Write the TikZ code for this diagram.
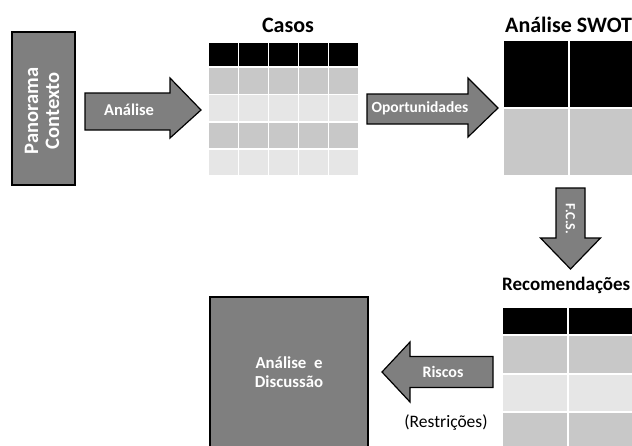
\documentclass[tikz,border=0pt]{standalone}
\usepackage{fontspec}
\setmainfont{Carlito}
\usetikzlibrary{calc}

\definecolor{darkbox}{RGB}{127,127,127}
\definecolor{midrow}{RGB}{200,200,200}
\definecolor{lightrow}{RGB}{230,230,230}

\begin{document}
\begin{tikzpicture}[%
        x = 1pt,
        y = -1pt,
        line join = miter,
        darkblock/.style = {fill = darkbox, draw = black, line width = 1.4pt},
        blockarrow/.style = {fill = darkbox, draw = black, line width = 1.2pt},
        cell/.style = {draw = white, line width = 1.2pt},
        arrowtext/.style = {text = white, inner sep = 0pt, font = \bfseries\fontsize{16}{18}\selectfont},
        tabletitle/.style = {inner sep = 0pt, font = \bfseries\fontsize{22}{24}\selectfont}
    ]

        % Page size and clipping.
        \useasboundingbox (0, 0) rectangle (632, 445);
        \clip (0, 0) rectangle (632, 445);

        % Coordinates for the block arrows.
        \coordinate (A0) at (85, 110);
        \coordinate (A1) at (170, 110);
        \coordinate (A2) at (201, 110);
        \coordinate (O0) at (367, 108);
        \coordinate (O1) at (468, 108);
        \coordinate (O2) at (498, 108);
        \coordinate (F0) at (570.5, 188);
        \coordinate (F1) at (570.5, 238);
        \coordinate (F2) at (570.5, 269);
        \coordinate (R0) at (493, 372);
        \coordinate (R1) at (410, 372);
        \coordinate (R2) at (382, 372);

        % Panorama box:
        \draw[darkblock] (12, 32) rectangle (75, 185);
        \node[rotate = 90, align = center, text = white, inner sep = 0pt,
              font = \bfseries\fontsize{20.5}{21}\selectfont] (panorama) at (42, 111)
            {Panorama\\Contexto};

        % Casos table:
        \node[tabletitle] (casos) at (288, 25) {Casos};
        \foreach \r/\ya/\yb/\c in {0/42/67/black, 1/67/94.5/midrow, 2/94.5/122/lightrow,
                                   3/122/149/midrow, 4/149/176/lightrow}{%
            \foreach \k in {0, 1, 2, 3, 4}{%
                \draw[cell, fill = \c] ({208 + 30.2*\k}, \ya) rectangle ({238.2 + 30.2*\k}, \yb);
            }
        }

        % Analise SWOT table:
        \node[tabletitle, anchor = west] (swot) at (505, 25) {Análise SWOT};
        \foreach \k in {0, 1}{%
            \draw[cell, fill = black]  ({503 + 66*\k}, 40)  rectangle ({569 + 66*\k}, 108);
            \draw[cell, fill = midrow] ({503 + 66*\k}, 108) rectangle ({569 + 66*\k}, 176);
        }

        % Recomendacoes table:
        \node[tabletitle, anchor = west, font = \bfseries\fontsize{19}{22}\selectfont]
            (recomendacoes) at (502, 285) {Recomendações};
        \foreach \r/\ya/\yb/\c in {0/307/335/black, 1/335/374/midrow,
                                   2/374/412/lightrow, 3/412/452/midrow}{%
            \foreach \k in {0, 1}{%
                \draw[cell, fill = \c] ({502 + 66*\k}, \ya) rectangle ({568 + 66*\k}, \yb);
            }
        }

        % Analise e Discussao box:
        \draw[darkblock] (210, 297) rectangle (368, 452);
        \node[align = center, text = white, inner sep = 0pt,
              font = \bfseries\fontsize{16.8}{19}\selectfont] (discussao) at (289, 372)
            {Análise\ \ e\\Discussão};

        % Block arrows:
        \draw[blockarrow]
            ($(A0) + (0, -17)$) -- ($(A1) + (0, -17)$) -- ($(A1) + (0, -32)$) --
            (A2) -- ($(A1) + (0, 28)$) -- ($(A1) + (0, 20)$) -- ($(A0) + (0, 20)$) -- cycle;
        \draw[blockarrow]
            ($(O0) + (0, -14)$) -- ($(O1) + (0, -14)$) -- ($(O1) + (0, -30)$) --
            (O2) -- ($(O1) + (0, 29)$) -- ($(O1) + (0, 16)$) -- ($(O0) + (0, 16)$) -- cycle;
        \draw[blockarrow]
            ($(F0) + (-14.5, 0)$) -- ($(F1) + (-14.5, 0)$) -- ($(F1) + (-30, 0)$) --
            (F2) -- ($(F1) + (30, 0)$) -- ($(F1) + (14.5, 0)$) -- ($(F0) + (14.5, 0)$) -- cycle;
        \draw[blockarrow]
            ($(R0) + (0, -15.5)$) -- ($(R1) + (0, -15.5)$) -- ($(R1) + (0, -30)$) --
            (R2) -- ($(R1) + (0, 30)$) -- ($(R1) + (0, 15.5)$) -- ($(R0) + (0, 15.5)$) -- cycle;

        % Labels on the arrows.
        \node[arrowtext, font = \bfseries\fontsize{16.5}{18}\selectfont] (lblanalise) at (129, 110) {Análise};
        \node[arrowtext, font = \bfseries\fontsize{15.5}{18}\selectfont] (lbloport) at (420, 108) {Oportunidades};
        \node[arrowtext, rotate = -90, font = \bfseries\fontsize{14}{15}\selectfont] (lblfcs) at (570.5, 219) {F.C.S.};
        \node[arrowtext] (lblriscos) at (443, 372) {Riscos};
        \node[inner sep = 0pt, font = \fontsize{17.5}{20}\selectfont] (restricoes) at (446, 423) {(Restrições)};
    \end{tikzpicture}
\end{document}
